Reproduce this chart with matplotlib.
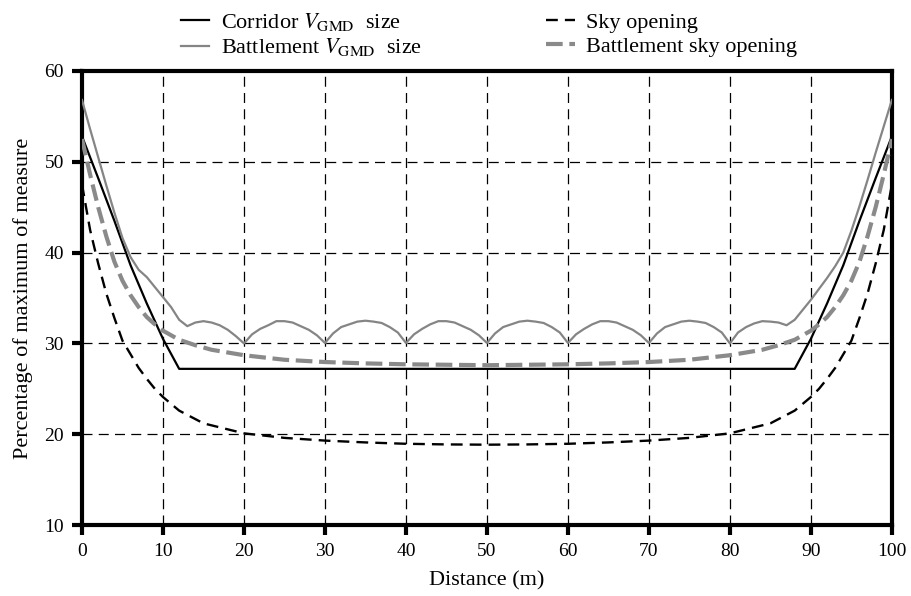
import numpy as np
import matplotlib.pyplot as plt

# values
corr_x = [0, 2, 4, 6, 8, 10, 12, 88, 90, 92, 94, 96, 98, 100]
corr_y = [52.8, 48.2, 43.5, 38.6, 34.4, 30.5, 27.2, 27.2, 30.5, 34.4, 38.6, 43.5, 48.2, 52.8]

batt_x = list(range(0, 101))
batt_y = [56.8, 53.6, 50.5, 47.4, 44.4, 41.6, 39.5, 38.1, 37.3, 36.2,
          35.1, 34.0, 32.6, 31.9, 32.3, 32.45, 32.3, 32.0, 31.5, 30.8,
          30.0, 31.0, 31.6, 32.0, 32.45, 32.45, 32.3, 31.9, 31.5, 30.9,
          30.05, 31.1, 31.8, 32.1, 32.4, 32.5, 32.4, 32.25, 31.8, 31.2,
          30.05, 31.0, 31.6, 32.1, 32.45, 32.45, 32.3, 31.9, 31.5, 30.9,
          30.05, 31.1, 31.8, 32.1, 32.4, 32.5, 32.4, 32.25, 31.8, 31.2,
          30.05, 31.0, 31.6, 32.1, 32.45, 32.45, 32.3, 31.9, 31.5, 30.9,
          30.05, 31.1, 31.8, 32.1, 32.4, 32.5, 32.4, 32.25, 31.8, 31.2,
          30.0, 31.2, 31.8, 32.2, 32.45, 32.4, 32.3, 32.0, 32.6, 33.7,
          34.8, 36.0, 37.2, 38.5, 40.0, 42.4, 45.1, 48.0, 51.0, 53.9,
          56.8]

sky_x = [0, 1, 2, 3, 4, 5, 6, 7, 8, 9, 10, 12, 15, 20, 25, 30, 35, 40, 45, 50,
         55, 60, 65, 70, 75, 80, 85, 88, 90, 91, 92, 93, 94, 95, 96, 97, 98, 99, 100]
sky_y = [47.5, 42.5, 38.8, 35.5, 32.8, 30.3, 28.8, 27.3, 26.1, 25.0, 24.1, 22.6, 21.2,
         20.1, 19.6, 19.3, 19.1, 18.95, 18.88, 18.85, 18.88, 18.95, 19.1, 19.3, 19.6,
         20.1, 21.2, 22.6, 24.1, 25.0, 26.1, 27.3, 28.8, 30.3, 32.8, 35.5, 38.8, 42.5, 47.5]

bsky_x = [0, 1, 2, 3, 4, 5, 6, 7, 8, 9, 10, 12, 14, 16, 20, 25, 30, 35, 40, 45, 50,
          55, 60, 65, 70, 75, 80, 84, 86, 88, 90, 91, 92, 93, 94, 95, 96, 97, 98, 99, 100]
bsky_y = [52.5, 48.6, 45.0, 41.8, 39.0, 36.9, 35.3, 34.0, 32.9, 32.1, 31.4, 30.4, 29.8,
          29.3, 28.7, 28.2, 27.95, 27.8, 27.7, 27.65, 27.6, 27.65, 27.7, 27.8, 27.95,
          28.2, 28.7, 29.3, 29.8, 30.4, 31.4, 32.1, 32.9, 34.0, 35.3, 36.9, 39.0, 41.8,
          45.0, 48.6, 52.5]

plt.rcParams['font.family'] = ['Liberation Serif', 'DejaVu Serif']
plt.rcParams['mathtext.fontset'] = 'stix'
plt.rcParams['font.size'] = 16

fig = plt.figure(figsize=(9.11, 5.96), dpi=100)
ax = fig.add_axes([0.09, 0.119, 0.889, 0.762])

ax.plot(corr_x, corr_y, color='black', lw=1.6, label=r'Corridor $V_{\mathrm{GMD}}$  size', zorder=3)
ax.plot(batt_x, batt_y, color='#858585', lw=1.6, label=r'Battlement $V_{\mathrm{GMD}}$  size', zorder=3)
ax.plot(sky_x, sky_y, color='black', lw=1.7, dashes=(5, 3), label='Sky opening', zorder=3)
ax.plot(bsky_x, bsky_y, color='#8a8a8a', lw=3, dashes=(4, 1.6), label='Battlement sky opening', zorder=3)

ax.set_xlim(0, 100)
ax.set_ylim(10, 60)
ax.set_xticks(np.arange(0, 101, 10))
ax.set_yticks(np.arange(10, 61, 10))
ax.grid(True, color='black', linestyle=(0, (8, 5)), lw=0.9, zorder=1)

for s in ax.spines.values():
    s.set_linewidth(3)
ax.tick_params(direction='out', length=7, width=3, pad=6, labelsize=14)

ax.set_xlabel('Distance (m)', labelpad=8)
ax.set_ylabel('Percentage of maximum of measure', labelpad=8)

fig.legend(loc='upper left', bbox_to_anchor=(0.186, 1.0), ncol=2, frameon=False,
           borderpad=0, handlelength=1.3, handletextpad=0.5, columnspacing=5.6,
           labelspacing=0.15)

plt.savefig('out.png')
plt.close()
